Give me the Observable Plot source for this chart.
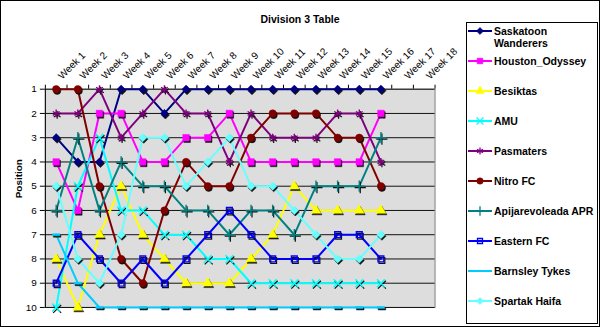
<!DOCTYPE html>
<html>
<head>
<meta charset="utf-8">
<script src="https://cdn.jsdelivr.net/npm/d3@7"></script>
<script src="https://cdn.jsdelivr.net/npm/@observablehq/plot@0.6"></script>
<style>
  body { margin: 0; background: #fff; }
  #chart { position: relative; width: 600px; height: 327px; box-sizing: border-box; border: 1px solid #000;
           font-family: "Liberation Sans", Arial, sans-serif; overflow: hidden; background: #fff; }
  #chart > svg { position: absolute; left: -1px; top: -1px; }
  #title { position: absolute; left: -1px; width: 600px; top: 12px; text-align: center;
           font-weight: bold; font-size: 10.5px; color: #000; }
  #legend { position: absolute; left: 465px; top: 21px; width: 132px; height: 302px;
            border: 1px solid #000; box-sizing: border-box; background: #fff; }
  .item { position: absolute; left: 0; width: 130px; font-size: 10.5px; font-weight: bold;
          line-height: 12px; white-space: nowrap; color: #000; }
  .item svg { position: absolute; left: 0; top: 0; overflow: visible; }
  .item span { position: absolute; left: 27px; top: 0; }
</style>
</head>
<body>
<div id="chart">
  <div id="title">Division 3 Table</div>
  <div id="legend"></div>
</div>
<script>
// ---------- data ----------
const weekLabels = ["Week 1","Week 2","Week 3","Week 4","Week 5","Week 6","Week 7","Week 8","Week 9",
  "Week 10","Week 11","Week 12","Week 13","Week 14","Week 15","Week 16","Week 17","Week 18"];
const positions = [1,2,3,4,5,6,7,8,9,10];
const teams = ["Saskatoon Wanderers","Houston_Odyssey","Besiktas","AMU","Pasmaters","Nitro FC",
  "Apijarevoleada APR","Eastern FC","Barnsley Tykes","Spartak Haifa"];
const teamColors = ["#000080","#FF00FF","#FFFF00","#00FFFF","#800080","#800000",
  "#008080","#0000FF","#00CCFF","#66FFFF"];

const saskatoon = [3,4,4,1,1,2,1,1,1,1,1,1,1,1,1,1];
const houston   = [4,6,2,2,4,4,3,3,2,4,4,4,4,4,4,2];
const besiktas  = [8,10,7,5,7,8,9,9,9,8,7,5,6,6,6,6];
const amu       = [10,5,3,6,6,7,7,8,8,9,9,9,9,9,9,9];
const pasmaters = [2,2,1,3,2,1,2,2,4,2,3,3,3,2,2,4];
const nitro     = [1,1,5,8,9,6,4,5,5,3,2,2,2,3,3,5];
const apijar    = [6,3,6,4,5,5,6,6,7,6,6,7,5,5,5,3];
const eastern   = [9,7,8,9,8,9,8,7,6,7,8,8,8,7,7,8];
const barnsley  = [7,9,10,10,10,10,10,10,10,10,10,10,10,10,10,10];
const spartak   = [5,8,9,7,3,3,5,4,3,5,5,6,7,8,8,7];
const series = [saskatoon, houston, besiktas, amu, pasmaters, nitro, apijar, eastern, barnsley, spartak];

// ---------- markers ----------
const dash = { draw(ctx, size) { const w = Math.sqrt(size) * 1.15; ctx.rect(-w / 2, -1, w, 2); } };
const symbols = ["diamond2","square","triangle","times","asterisk","circle","plus","square2", dash, "diamond2"];
const d3Symbols = [d3.symbolDiamond2, d3.symbolSquare, d3.symbolTriangle, d3.symbolTimes, d3.symbolAsterisk,
  d3.symbolCircle, d3.symbolPlus, d3.symbolSquare2, dash, d3.symbolDiamond2];
const filled = [true,true,true,false,false,true,false,false,true,true];
const R = 3.7;

const rows = teams.flatMap((team, i) => series[i].map((pos, w) => ({team, week: w + 1, pos})));
const bounds = d3.range(weekLabels.length + 1).map(i => i + 0.5);

const marks = [
  Plot.frame({fill: "#DDDDDD", stroke: "#808080"}),
  Plot.ruleY(positions, {stroke: "#111", strokeWidth: 1}),
  Plot.ruleX([bounds[0]], {stroke: "#000"}),
  Plot.ruleX(bounds, {x: d => d, y1: positions[0], y2: positions[0], insetTop: -4, stroke: "#000"}),
  Plot.text(weekLabels, {x: (d, i) => i + 1, frameAnchor: "top", rotate: -45, textAnchor: "start",
    dx: 1, dy: -14.5, fontSize: 10, fill: "#000"}),
  Plot.text(["Position"], {frameAnchor: "left", dx: -27, rotate: -90, fontWeight: "bold", fontSize: 10, fill: "#000"})
];

teams.forEach((team, i) => {
  const d = rows.filter(r => r.team === team);
  marks.push(Plot.line(d, {x: "week", y: "pos", stroke: "team", strokeWidth: 2}));
  const shadow = filled[i]
    ? {fill: "#111", stroke: "#111", strokeWidth: 0.5}
    : {stroke: "#111", fill: "none", strokeWidth: 1.2};
  marks.push(Plot.dot(d, {x: "week", y: "pos", r: R, symbol: symbols[i], dx: 1, dy: 1.5, ...shadow}));
  const main = filled[i]
    ? {fill: "team", stroke: "team", strokeWidth: 0.5}
    : {stroke: "team", fill: "none", strokeWidth: 1.4};
  marks.push(Plot.dot(d, {x: "week", y: "pos", r: R, symbol: symbols[i], ...main}));
});

const plot = Plot.plot({
  width: 600, height: 327,
  marginTop: 89, marginLeft: 45, marginRight: 164, marginBottom: 19,
  x: {type: "linear", domain: [bounds[0], bounds[bounds.length - 1]], axis: null},
  y: {domain: [positions[positions.length - 1], positions[0]], ticks: positions, tickSize: 5,
      tickPadding: 3.5, label: null, tickFormat: d => String(d)},
  color: {domain: teams, range: teamColors},
  style: {fontFamily: "'Liberation Sans', Arial, sans-serif", fontSize: "10px", background: "transparent",
          overflow: "visible", color: "#000"},
  marks
});
document.getElementById("chart").appendChild(plot);

// ---------- legend ----------
const legend = document.getElementById("legend");
teams.forEach((team, i) => {
  const item = document.createElement("div");
  item.className = "item";
  item.style.top = (2 + i * 30) + "px";
  const svg = d3.create("svg").attr("width", 26).attr("height", 12);
  svg.append("line").attr("x1", 1).attr("x2", 25).attr("y1", 6).attr("y2", 6)
    .attr("stroke", teamColors[i]).attr("stroke-width", 2);
  if (i !== 8) {
    svg.append("path").attr("transform", "translate(13,6)")
      .attr("d", d3.symbol(d3Symbols[i], Math.PI * 3.2 * 3.2)())
      .attr("fill", filled[i] ? teamColors[i] : "none")
      .attr("stroke", teamColors[i]).attr("stroke-width", filled[i] ? 0.5 : 1.3);
  }
  item.appendChild(svg.node());
  const span = document.createElement("span");
  if (team === "Saskatoon Wanderers") span.innerHTML = "Saskatoon<br>Wanderers";
  else span.textContent = team;
  item.appendChild(span);
  legend.appendChild(item);
});
</script>
</body>
</html>
